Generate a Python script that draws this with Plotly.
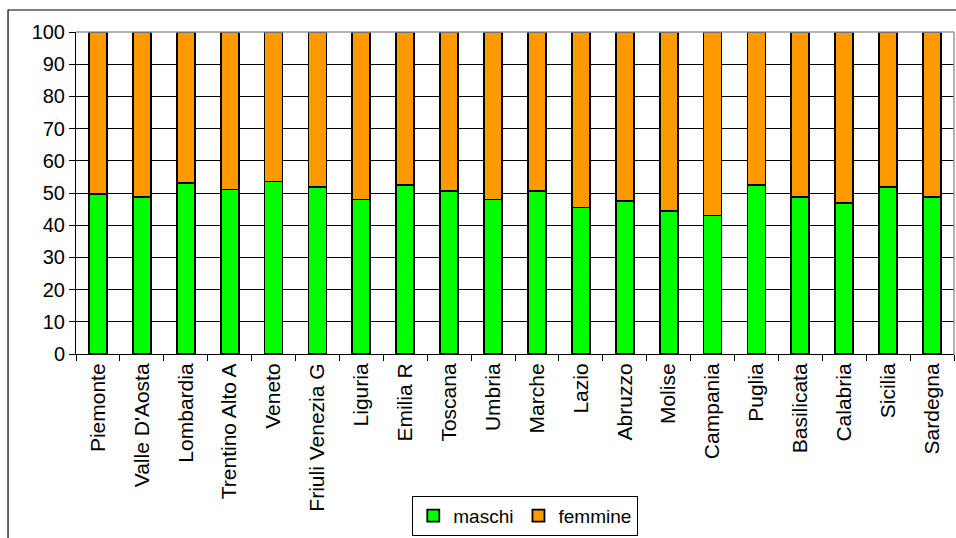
import plotly.graph_objects as go

regioni = ["Piemonte", "Valle D'Aosta", "Lombardia", "Trentino Alto A", "Veneto",
           "Friuli Venezia G", "Liguria", "Emilia R", "Toscana", "Umbria",
           "Marche", "Lazio", "Abruzzo", "Molise", "Campania",
           "Puglia", "Basilicata", "Calabria", "Sicilia", "Sardegna"]
maschi = [49.8, 48.7, 53.1, 51.1, 53.6, 51.8, 48.0, 52.4, 50.6, 48.0,
          50.7, 45.5, 47.4, 44.3, 43.0, 52.4, 48.7, 46.9, 51.8, 48.7]
femmine = [round(100 - m, 1) for m in maschi]

font = "Liberation Sans, Arial, sans-serif"
outline = dict(color="black", width=1.8)

fig = go.Figure()
fig.add_bar(x=regioni, y=maschi, name="maschi",
            marker=dict(color="#00ff00", line=outline))
fig.add_bar(x=regioni, y=femmine, name="femmine",
            marker=dict(color="#ff9900", line=outline))

fig.update_layout(
    barmode="stack",
    bargap=0.59,
    width=956, height=538,
    margin=dict(l=76, r=2, t=32, b=184, autoexpand=False),
    paper_bgcolor="white", plot_bgcolor="white",
    font=dict(family=font, size=19, color="black"),
    legend=dict(orientation="h", x=0.383, y=-0.44, xanchor="left", yanchor="top",
                bordercolor="black", borderwidth=1, bgcolor="white",
                font=dict(size=19), itemwidth=30, traceorder="normal"),
    showlegend=True,
)
fig.update_yaxes(range=[0, 100], dtick=10, showgrid=True, gridcolor="black", gridwidth=1,
                 ticks="outside", ticklen=6, tickcolor="black", showline=True,
                 linecolor="black", linewidth=1, tickfont=dict(size=20),
                 zeroline=False, automargin=False)
fig.update_xaxes(tickangle=-90, ticks="outside", tickson="boundaries", ticklen=6,
                 tickcolor="black", showline=True, linecolor="black", linewidth=1,
                 tickfont=dict(size=21), automargin=False)

# plot area border (top/right) and outer chart frame
fig.add_shape(type="line", xref="paper", yref="paper", x0=0, x1=1, y0=1, y1=1,
              line=dict(color="#999999", width=1.5))
fig.add_shape(type="line", xref="paper", yref="paper", x0=1, x1=1, y0=0, y1=1,
              line=dict(color="#999999", width=1.5))
fig.add_shape(type="rect", xref="paper", yref="paper", x0=-0.0774, x1=1.1,
              y0=-0.7, y1=1.0683, line=dict(color="black", width=1.2), layer="below")

# drop the default page margin so the figure sits at the window origin
fig.write_html("out.html", config={"displayModeBar": False},
               post_script="document.body.style.margin='0';")
